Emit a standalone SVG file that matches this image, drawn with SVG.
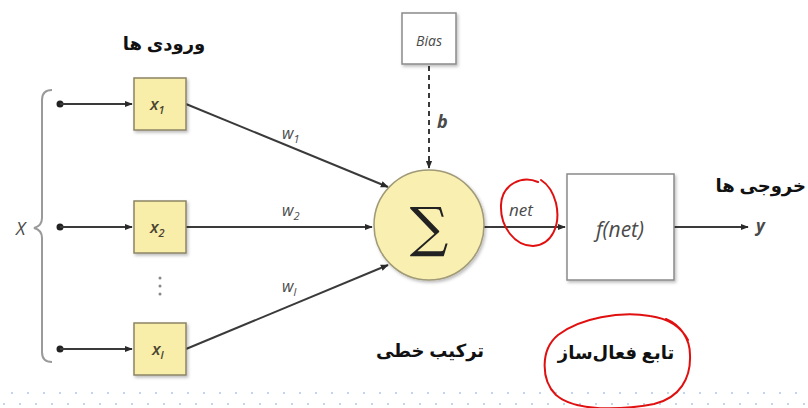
<svg xmlns="http://www.w3.org/2000/svg" width="808" height="408" viewBox="0 0 808 408">
  <defs>
    <style>
      .box { fill: #f8eeaa; stroke: #8c8466; stroke-width: 1.5; }
      .wbox { fill: #ffffff; stroke: #8a8a8a; stroke-width: 1.5; }
      .edge { fill: none; stroke: #3a3a3a; stroke-width: 2; }
      .lbl { font-family: "Open Sans", "Liberation Sans", sans-serif; font-style: italic; fill: #4a4a4a; }
      .xl { font-family: "Open Sans", "Liberation Sans", sans-serif; font-style: italic; font-weight: 600; fill: #4a4530; }
      .fa { font-family: "Noto Sans", "DejaVu Sans", sans-serif; font-weight: bold; fill: #111; font-size: 18px; }
      .red { fill: none; stroke: #e01010; stroke-width: 2; stroke-linecap: round; }
      .dot { fill: #aac8e8; }
    </style>
    <marker id="arr" viewBox="0 0 10 10" refX="9" refY="5" markerWidth="4" markerHeight="4" orient="auto">
      <path d="M0,1 L10,5 L0,9 z" fill="#2a2a2a"/>
    </marker>
    <filter id="sh" x="-20%" y="-20%" width="140%" height="140%">
      <feDropShadow dx="1.5" dy="2" stdDeviation="1.5" flood-color="#000" flood-opacity="0.25"/>
    </filter>
    <pattern id="dots" x="0" y="0" width="16" height="20" patternUnits="userSpaceOnUse">
      <circle cx="4" cy="4" r="1" class="dot"/>
      <circle cx="12" cy="13" r="1" class="dot"/>
    </pattern>
  </defs>

  <rect width="808" height="408" fill="#ffffff"/>

  <!-- dotted footer band -->
  <rect x="0" y="387" width="808" height="18" fill="url(#dots)"/>

  <!-- input bracket -->
  <path d="M52,90 Q42,90 42,100 L42,218 Q42,226 34,228 Q42,230 42,238 L42,352 Q42,362 52,362" fill="none" stroke="#9a9a9a" stroke-width="2"/>
  <text x="16" y="235" class="lbl" font-size="18">X</text>

  <!-- connectors -->
  <g id="connectors">
    <circle cx="60" cy="104" r="3.5" fill="#222"/>
    <circle cx="60" cy="227" r="3.5" fill="#222"/>
    <circle cx="60" cy="349" r="3.5" fill="#222"/>
    <line x1="60" y1="104" x2="132" y2="104" class="edge" marker-end="url(#arr)"/>
    <line x1="60" y1="227" x2="132" y2="227" class="edge" marker-end="url(#arr)"/>
    <line x1="60" y1="349" x2="132" y2="349" class="edge" marker-end="url(#arr)"/>
    <line x1="186" y1="104" x2="388" y2="187" class="edge" marker-end="url(#arr)"/>
    <line x1="186" y1="227" x2="372" y2="227" class="edge" marker-end="url(#arr)"/>
    <line x1="186" y1="349" x2="388" y2="265" class="edge" marker-end="url(#arr)"/>
    <line x1="429" y1="66" x2="429" y2="168" class="edge" stroke-dasharray="5,4" marker-end="url(#arr)"/>
    <line x1="484" y1="227" x2="565" y2="227" class="edge" marker-end="url(#arr)"/>
    <line x1="674" y1="227" x2="748" y2="227" class="edge" marker-end="url(#arr)"/>
  </g>

  <!-- edge labels -->
  <text x="282" y="139" class="lbl" font-size="16">w<tspan font-size="11" dy="4">1</tspan></text>
  <text x="282" y="216" class="lbl" font-size="16">w<tspan font-size="11" dy="4">2</tspan></text>
  <text x="282" y="292" class="lbl" font-size="16">w<tspan font-size="11" dy="4">l</tspan></text>
  <text x="437" y="128" class="lbl" font-size="18" font-weight="bold">b</text>
  <text x="509" y="216" class="lbl" font-size="17">net</text>
  <text x="756" y="232" class="lbl" font-size="17" font-weight="bold">y</text>

  <!-- vertical ellipsis -->
  <circle cx="160" cy="278" r="1.5" fill="#888"/>
  <circle cx="160" cy="286" r="1.5" fill="#888"/>
  <circle cx="160" cy="294" r="1.5" fill="#888"/>

  <!-- input nodes -->
  <g id="x1">
    <rect x="134" y="78" width="52" height="52" class="box" filter="url(#sh)"/>
    <text x="150" y="110" class="xl" font-size="17">x<tspan font-size="11" dy="4">1</tspan></text>
  </g>
  <g id="x2">
    <rect x="134" y="201" width="52" height="52" class="box" filter="url(#sh)"/>
    <text x="150" y="233" class="xl" font-size="17">x<tspan font-size="11" dy="4">2</tspan></text>
  </g>
  <g id="xl">
    <rect x="134" y="323" width="52" height="52" class="box" filter="url(#sh)"/>
    <text x="152" y="355" class="xl" font-size="17">x<tspan font-size="11" dy="4">l</tspan></text>
  </g>

  <!-- bias node -->
  <g id="bias">
    <rect x="402" y="13" width="54" height="51" class="wbox" filter="url(#sh)"/>
    <text x="429" y="46" class="lbl" font-size="14" text-anchor="middle">Bias</text>
  </g>

  <!-- summation node -->
  <g id="sum">
    <circle cx="429" cy="225" r="55" fill="#f9efb0" stroke="#a09a78" stroke-width="1.5" filter="url(#sh)"/>
    <text x="429" y="246" font-family="DejaVu Serif, Liberation Serif, serif" font-size="54" fill="#222" text-anchor="middle">∑</text>
  </g>

  <!-- activation node -->
  <g id="activation">
    <rect x="567" y="174" width="107" height="106" class="wbox" filter="url(#sh)"/>
    <text x="620" y="237" class="lbl" font-size="21" text-anchor="middle">f(net)</text>
  </g>

  <!-- Persian captions -->
  <text x="164" y="50" class="fa" text-anchor="middle" direction="rtl">ورودی ها</text>
  <text x="806" y="192" class="fa" text-anchor="start" direction="rtl">خروجی ها</text>
  <text x="430" y="357" class="fa" text-anchor="middle" direction="rtl">ترکیب خطی</text>
  <text x="616" y="359" class="fa" text-anchor="middle" direction="rtl">تابع فعال‌ساز</text>

  <!-- hand-drawn red marks -->
  <path class="red" d="M538,182 C522,175 502,184 501,205 C500,227 515,246 533,246 C552,245 561,225 556,203 C553,192 549,185 541,180"/>
  <path class="red" d="M688,340 C680,325 665,318 650,316 C620,311 580,318 558,335 C540,350 541,380 556,395 C575,412 622,410 654,404 C680,398 691,378 690,355 C690,338 680,325 666,319"/>
</svg>
